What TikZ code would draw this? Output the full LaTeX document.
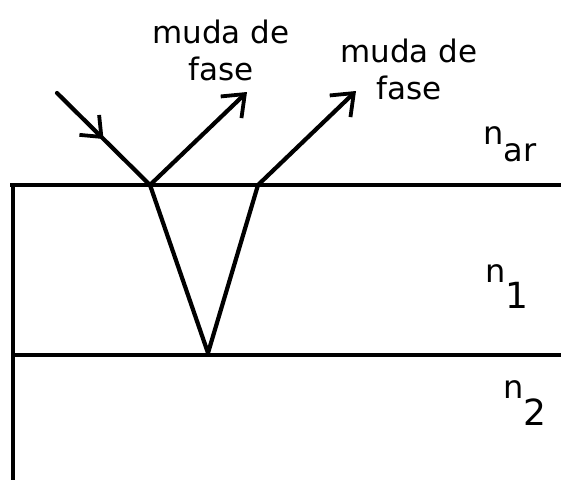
\documentclass[tikz,border=0pt]{standalone}
\usepackage{fontspec}
\setmainfont{DejaVu Sans}
\usetikzlibrary{arrows.meta,decorations.markings}
\begin{document}
\begin{tikzpicture}[x=1pt,y=-1pt,
  ray/.style={line width=4.2pt,line cap=round,line join=round},
  tip/.style={-{Straight Barb[length=19pt,width=30pt,line width=3.8pt]}},
  midtip/.style={decoration={markings,mark=at position 0.5 with {\arrow{Straight Barb[length=17pt,width=28pt,line width=3.8pt]}}},postaction={decorate}},
  lbl/.style={font=\fontsize{31}{37}\selectfont,align=center,inner sep=0pt},
  nlab/.style={font=\fontsize{32}{34}\selectfont,inner sep=0pt,anchor=base west}]
\useasboundingbox (0,0) rectangle (561,480);
% points
\coordinate (tl) at (13,185);
\coordinate (tr) at (561,185);
\coordinate (ml) at (13,355);
\coordinate (mr) at (561,355);
\coordinate (bl) at (13,480);
\coordinate (inc) at (57,93);
\coordinate (p1) at (150,185);
\coordinate (p2) at (258,185);
\coordinate (q) at (208,353);
\coordinate (r1) at (247,92);
\coordinate (r2) at (356,91);
% interfaces
\draw[ray,line cap=butt] (10,185) -- (tr);
\draw[ray,line cap=butt] (ml) -- (mr);
\draw[ray,line cap=butt] (13,183) -- (bl);
% rays
\draw[ray,midtip] (inc) -- (p1);
\draw[ray,tip] (p1) -- (r1);
\draw[ray] (p1) -- (q) -- (p2);
\draw[ray,tip] (p2) -- (r2);
% labels
\node[lbl] (m1) at (221,50) {muda de\\fase};
\node[lbl] (m2) at (409,69) {muda de\\fase};
\node[nlab] (nar) at (483,144) {n\raisebox{-17pt}{ar}};
\node[nlab] (n1) at (485,282) {n\raisebox{-26pt}{\fontsize{36}{38}\selectfont 1}};
\node[nlab] (n2) at (503,398) {n\raisebox{-27pt}{\fontsize{36}{38}\selectfont 2}};
\end{tikzpicture}
\end{document}
